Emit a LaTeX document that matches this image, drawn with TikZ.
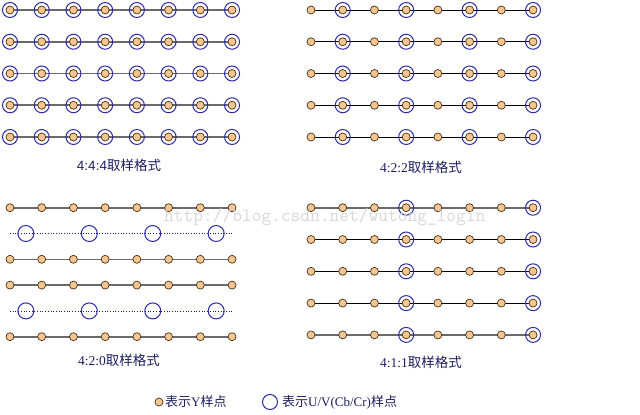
\documentclass[tikz,border=0pt]{standalone}
\usepackage{fontspec}
\setmainfont{Liberation Serif}
\newfontfamily\cjk{Noto Sans CJK SC}
\newfontfamily\arialf{Liberation Sans}
\usetikzlibrary{backgrounds}
\definecolor{yfill}{HTML}{F5C68F}
\definecolor{ydraw}{HTML}{4A3018}
\definecolor{uvblue}{HTML}{2B2BA8}
\definecolor{labelc}{HTML}{1E1E60}
\definecolor{graylinec}{HTML}{6A6A6A}
\definecolor{wmark}{HTML}{D2D2D2}
\begin{document}
\begin{tikzpicture}[x=1pt,y=-1pt,
  ydot/.style={circle,draw=ydraw,fill=yfill,line width=0.7pt,minimum size=8pt,inner sep=0pt},
  uvring/.style={circle,draw=uvblue,line width=1pt,minimum size=15pt,inner sep=0pt},
  uvbig/.style={circle,draw=uvblue,line width=1pt,minimum size=16pt,inner sep=0pt},
  grayline/.style={draw=graylinec,line width=1.6pt},
  blackline/.style={draw=black,line width=0.9pt},
  dotline/.style={draw=uvblue!60!black,line width=0.7pt,dotted},
  caption/.style={text=labelc,font=\fontsize{13.5}{15}\selectfont,inner sep=0pt},
  legendtext/.style={text=labelc,font=\fontsize{13}{15}\selectfont,inner sep=0pt,anchor=west}]
\useasboundingbox (0,0) rectangle (640,415);
\begin{scope}[on background layer]
  \fill[white] (0,0) rectangle (640,415);
\end{scope}

% ---------- Panel 1 : 4:4:4 ----------
\foreach \j in {0,...,4}{
  \pgfmathsetmacro\yy{10+31.75*\j}
  \foreach \i in {0,...,7}{
    \node[uvring] (pa-c\j-\i) at ({10+31.72*\i},\yy) {};
    \node[ydot] (pa-y\j-\i) at ({10+31.72*\i},\yy) {};
  }
  \begin{scope}[on background layer]
    \draw[grayline] (pa-y\j-0.center) -- (pa-y\j-7.center);
  \end{scope}
}
\node[caption] (capa) at (119,165) {{\arialf 4:4:4}{\cjk 取样格式}};

% ---------- Panel 2 : 4:2:2 ----------
\foreach \j in {0,...,4}{
  \pgfmathsetmacro\yy{10+31.75*\j}
  \foreach \i in {0,...,7}{
    \pgfmathtruncatemacro\odd{mod(\i,2)}
    \ifnum\odd=1
      \node[uvring] (pb-c\j-\i) at ({311+31.72*\i},\yy) {};
    \fi
    \node[ydot] (pb-y\j-\i) at ({311+31.72*\i},\yy) {};
  }
  \begin{scope}[on background layer]
    \draw[blackline] (pb-y\j-0.center) -- (pb-y\j-7.center);
  \end{scope}
}
\node[caption] (capb) at (421,167) {4:2:2{\cjk 取样格式}};

% ---------- Panel 3 : 4:2:0 ----------
\foreach \j/\yy in {0/207.7,1/259.3,2/285.1,3/336.7}{
  \foreach \i in {0,...,7}{
    \node[ydot] (pc-y\j-\i) at ({10+31.72*\i},\yy) {};
  }
  \begin{scope}[on background layer]
    \draw[grayline] (pc-y\j-0.center) -- (pc-y\j-7.center);
  \end{scope}
}
\foreach \k/\yy in {0/233.5,1/310.9}{
  \coordinate (pc-s\k) at (10,\yy);
  \coordinate (pc-e\k) at (232,\yy);
  \draw[dotline] (pc-s\k) -- (pc-e\k);
  \foreach \m in {0,...,3}{
    \node[uvbig] (pc-c\k-\m) at ({25.86+63.44*\m},\yy) {};
  }
}
\node[caption] (capc) at (119,360) {4:2:0{\cjk 取样格式}};

% ---------- Panel 4 : 4:1:1 ----------
\foreach \j in {0,...,4}{
  \pgfmathsetmacro\yy{207.7+31.8*\j}
  \foreach \i in {0,...,7}{
    \ifnum\i=3
      \node[uvring] (pd-c\j-\i) at ({311+31.72*\i},\yy) {};
    \fi
    \ifnum\i=7
      \node[uvring] (pd-c\j-\i) at ({311+31.72*\i},\yy) {};
    \fi
    \node[ydot] (pd-y\j-\i) at ({311+31.72*\i},\yy) {};
  }
}
\begin{scope}[on background layer]
  \draw[grayline] (pd-y0-0.center) -- (pd-y0-7.center);
  \draw[blackline] (pd-y1-0.center) -- (pd-y1-7.center);
  \draw[blackline] (pd-y2-0.center) -- (pd-y2-7.center);
  \draw[blackline] (pd-y3-0.center) -- (pd-y3-7.center);
  \draw[grayline] (pd-y4-0.center) -- (pd-y4-7.center);
\end{scope}
\node[caption] (capd) at (421,362) {4:1:1{\cjk 取样格式}};

% ---------- Legend ----------
\node[ydot] (legy) at (159,402) {};
\node[legendtext] (legyt) at (165,402) {{\cjk 表示}Y{\cjk 样点}};
\node[uvring] (leguv) at (270,402) {};
\node[legendtext] (leguvt) at (282,402) {{\cjk 表示}U/V(Cb/Cr){\cjk 样点}};

% ---------- Watermark ----------
\node[text=wmark,font=\ttfamily\fontsize{18.9}{20}\selectfont,anchor=west,inner sep=0pt,opacity=0.85] (wm) at (164,217) {http://blog.csdn.net/wutong\_login};
\end{tikzpicture}
\end{document}
